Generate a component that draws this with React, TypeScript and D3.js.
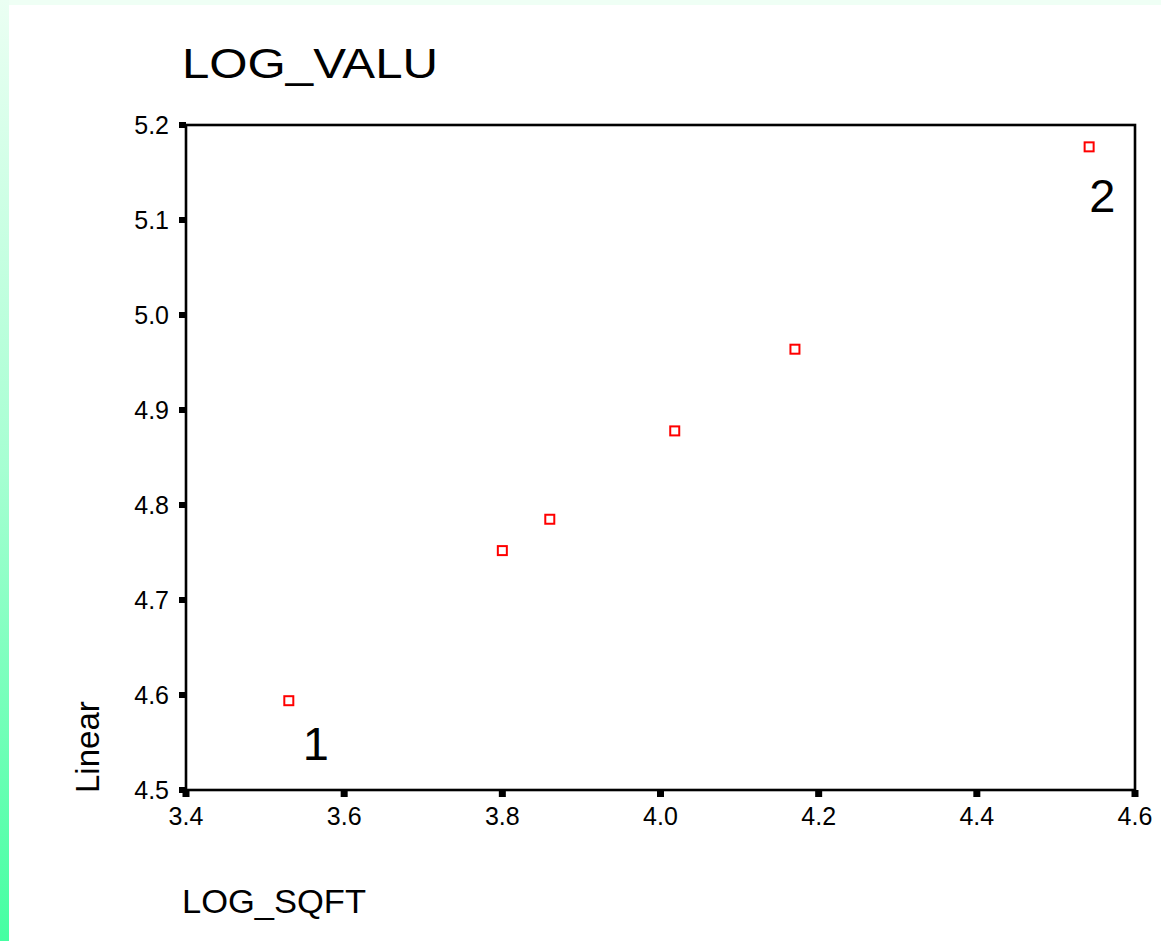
import React from "react";
import * as d3 from "d3";

// Observed cases: LOG_SQFT vs LOG_VALU
const logSqft = [3.53, 3.8, 3.86, 4.018, 4.17, 4.542];
const logValu = [4.594, 4.752, 4.785, 4.878, 4.964, 5.177];

// Case-number labels attached to specific points (index into the arrays above)
const caseLabels = [
  { text: "1", index: 0 },
  { text: "2", index: 5 },
];

const xTicks = [3.4, 3.6, 3.8, 4.0, 4.2, 4.4, 4.6];
const yTicks = [4.5, 4.6, 4.7, 4.8, 4.9, 5.0, 5.1, 5.2];

const W = 1161;
const H = 941;
const plot = { left: 186, right: 1135, top: 125, bottom: 790 };

// label offsets (pixels) from the point they annotate
const labelOffsets: Record<string, [number, number]> = {
  "1": [14, 59],
  "2": [0, 65],
};

export default function App() {
  const x = d3.scaleLinear().domain([3.4, 4.6]).range([plot.left, plot.right]);
  const y = d3.scaleLinear().domain([4.5, 5.2]).range([plot.bottom, plot.top]);
  const fmt = d3.format(".1f");
  const font = "Arial, 'Liberation Sans', Helvetica, sans-serif";

  return (
    <svg
      width={W}
      height={H}
      style={{ position: "absolute", left: 0, top: 0, display: "block" }}
      fontFamily={font}
    >
      <defs>
        <linearGradient id="edge" x1="0" y1="0" x2="0" y2="1">
          <stop offset="0%" stopColor="#ebfff3" />
          <stop offset="50%" stopColor="#a6ffd2" />
          <stop offset="100%" stopColor="#45ffa2" />
        </linearGradient>
      </defs>
      <rect x={0} y={0} width={W} height={H} fill="#ffffff" />
      <rect x={0} y={0} width={W} height={5} fill="#effff5" />
      <rect x={0} y={0} width={9} height={H} fill="url(#edge)" />

      {/* title */}
      <text
        x={182}
        y={78}
        fontSize={43}
        textLength={256}
        lengthAdjust="spacingAndGlyphs"
        fill="#000"
      >
        LOG_VALU
      </text>

      {/* frame */}
      <rect
        x={plot.left}
        y={plot.top}
        width={plot.right - plot.left}
        height={plot.bottom - plot.top}
        fill="none"
        stroke="#000"
        strokeWidth={2.6}
      />

      {/* y axis ticks */}
      {yTicks.map((t) => (
        <g key={"y" + t}>
          <rect
            x={plot.left - 7}
            y={y(t) - 3}
            width={7}
            height={6}
            fill="#000"
          />
          <text
            x={169}
            y={y(t)}
            dy="0.36em"
            fontSize={25}
            textAnchor="end"
            fill="#000"
          >
            {fmt(t)}
          </text>
        </g>
      ))}

      {/* x axis ticks */}
      {xTicks.map((t) => (
        <g key={"x" + t}>
          <rect
            x={x(t) - 3.5}
            y={plot.bottom}
            width={7}
            height={7}
            fill="#000"
          />
          <text x={x(t)} y={825} fontSize={25} textAnchor="middle" fill="#000">
            {fmt(t)}
          </text>
        </g>
      ))}

      {/* points */}
      {logSqft.map((v, i) => (
        <rect
          key={"p" + i}
          x={x(v) - 4.5}
          y={y(logValu[i]) - 4.5}
          width={9}
          height={9}
          fill="#fff"
          stroke="#ff0000"
          strokeWidth={2}
        />
      ))}

      {/* case labels */}
      {caseLabels.map((c) => {
        const [dx, dy] = labelOffsets[c.text];
        return (
          <text
            key={"c" + c.text}
            x={x(logSqft[c.index]) + dx}
            y={y(logValu[c.index]) + dy}
            fontSize={47}
            fill="#000"
          >
            {c.text}
          </text>
        );
      })}

      {/* axis titles */}
      <text
        x={182}
        y={913}
        fontSize={34}
        textLength={184}
        lengthAdjust="spacingAndGlyphs"
        fill="#000"
      >
        LOG_SQFT
      </text>
      <text
        transform="translate(99,793) rotate(-90)"
        fontSize={33}
        fill="#000"
      >
        Linear
      </text>
    </svg>
  );
}
